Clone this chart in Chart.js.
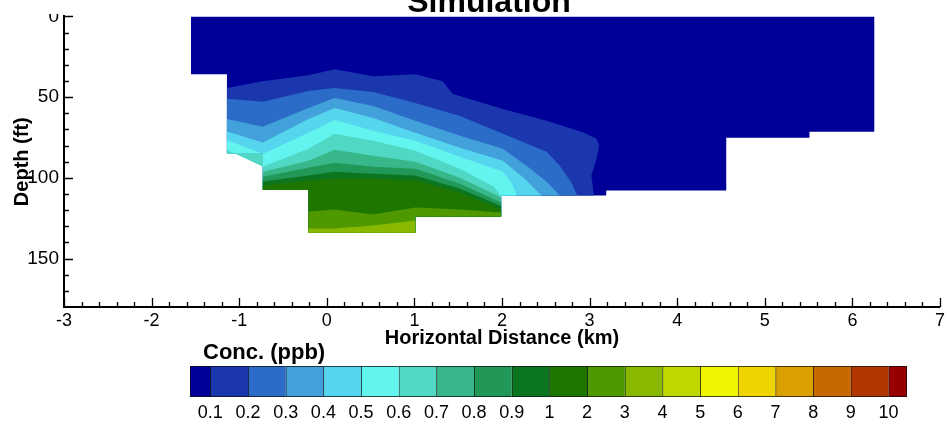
<!DOCTYPE html>
<html><head><meta charset="utf-8">
<script src="https://cdn.jsdelivr.net/npm/chart.js@4.4.1/dist/chart.umd.min.js"></script>
<style>
html,body{margin:0;padding:0;background:#fff;width:948px;height:426px;overflow:hidden;}
#main{position:absolute;left:0;top:0;}
#bar{position:absolute;left:0;top:340px;}
</style></head><body>
<canvas id="main" width="948" height="350"></canvas>
<canvas id="bar" width="948" height="86"></canvas>
<script>
// ---------- data ----------
const levelLabels = ['0.1','0.2','0.3','0.4','0.5','0.6','0.7','0.8','0.9','1','2','3','4','5','6','7','8','9','10'];
const levelColors = ['#000099','#1a37ae','#2a6cc8','#42a0da','#56d5ee','#62f5f0','#50d8c4','#38b88a','#219858','#0c7520',
                     '#1e7500','#4e9800','#88b800','#c0d800','#f0f500','#eed400','#d9a000','#c86800','#b03800','#960000'];
const xTickValues = [-3,-2,-1,0,1,2,3,4,5,6,7];
const depthTickValues = [0,50,100,150];

// model domain: top edge and stepped bottom edge (x km, depth ft)
const domainTopEdge = [[-1.55,35.8],[-1.55,0],[6.25,0]];
const domainBottom = [[6.25,71.5],[5.51,71.5],[5.51,75.2],[4.56,75.2],[4.56,107.9],[3.19,107.9],[3.19,111.0],
  [1.99,111.0],[1.99,123.9],[1.01,123.9],[1.01,134.0],[-0.21,134.0],[-0.21,107.5],[-0.73,107.5],[-0.73,84.9],
  [-1.14,84.9],[-1.14,35.8]];

// contour lines (x km, depth ft), one per level
const contour0p1 = [[-1.14,44.4],[-0.73,40.1],[-0.21,36.4],[0.09,32.7],[0.53,37.0],[1.01,35.8],[1.32,40.1],[1.44,48.1],
  [2.01,57.3],[2.51,64.7],[2.94,72.1],[3.08,75.8],[3.11,80.1],[3.08,88.2],[3.02,98.6],[3.05,111.0]];
const contour0p2 = [[-1.14,51.0],[-0.73,52.8],[-0.21,46.2],[0.09,44.4],[0.53,46.9],[1.01,53.6],[1.52,61.7],[2.01,72.7],
  [2.51,83.8],[2.66,92.5],[2.79,102.8],[2.86,111.0]];
const contour0p3 = [[-1.14,63.5],[-0.73,68.4],[-0.21,56.7],[0.09,50.6],[0.53,55.5],[1.01,64.7],[1.52,74.0],[2.01,82.0],
  [2.31,93.7],[2.52,103.0],[2.66,111.0]];
const contour0p4 = [[-1.14,71.3],[-0.73,78.1],[-0.21,63.5],[0.09,56.7],[0.53,62.9],[1.01,72.1],[1.52,81.4],[2.01,89.4],
  [2.26,100.5],[2.45,111.0]];
const contour0p5 = [[-1.14,76.6],[-0.73,85.3],[-0.21,72.1],[0.09,64.1],[0.53,70.9],[1.01,77.1],[1.52,86.9],[2.01,96.2],
  [2.11,103.0],[2.17,111.0]];
const contour0p6 = [[-1.14,82.6],[-0.73,93.1],[-0.21,82.0],[0.09,72.7],[0.53,77.1],[1.01,83.2],[1.52,94.3],[1.91,105.5],[1.99,111.5]];
const contour0p7 = [[-0.73,96.2],[-0.21,89.4],[0.09,82.6],[0.53,86.3],[1.01,90.0],[1.52,99.9],[1.99,112.2]];
const contour0p8 = [[-0.73,99.3],[-0.21,93.7],[0.09,90.6],[0.53,93.1],[1.01,94.3],[1.52,103.6],[1.99,115.3]];
const contour0p9 = [[-0.73,102.3],[-0.21,98.6],[0.09,96.2],[0.53,97.4],[1.01,98.6],[1.52,106.7],[1.99,117.4]];
const contour1 = [[-0.73,104.8],[-0.21,101.7],[0.09,100.5],[0.53,100.5],[1.01,101.7],[1.52,109.1],[1.99,119.6]];
const contour2 = [[-0.21,120.8],[0.09,119.6],[0.53,122.7],[1.01,118.4],[1.52,119.6],[1.99,121.5]];
const contour3 = [[-0.21,131.3],[0.09,131.3],[0.53,129.5],[1.01,126.4]];

const contours = [contour0p1,contour0p2,contour0p3,contour0p4,contour0p5,contour0p6,contour0p7,contour0p8,contour0p9,contour1,contour2,contour3];

// ---------- build filled regions (value >= level) ----------
function segIndex(p){
  const eps = 1e-6;
  for (let i = 0; i < domainBottom.length - 1; i++){
    const a = domainBottom[i], b = domainBottom[i+1];
    if (Math.abs(a[0]-b[0]) < eps && Math.abs(p[0]-a[0]) < eps &&
        p[1] >= Math.min(a[1],b[1]) - eps && p[1] <= Math.max(a[1],b[1]) + eps) return i;
    if (Math.abs(a[1]-b[1]) < eps && Math.abs(p[1]-a[1]) < eps &&
        p[0] >= Math.min(a[0],b[0]) - eps && p[0] <= Math.max(a[0],b[0]) + eps) return i;
  }
  return -1;
}
function regionPolygon(c){
  const s = c[0], e = c[c.length-1];
  const iE = segIndex(e), iS = segIndex(s);
  return [...c, ...domainBottom.slice(iE+1, iS+1), s];
}
const regions = [[...domainBottom, ...domainTopEdge], ...contours.map(regionPolygon)];

const FONT = "'Liberation Sans', Arial, Helvetica, sans-serif";
Chart.defaults.font.family = FONT;
Chart.defaults.color = '#000';

const innerTicks = {
  id: 'innerTicks',
  afterDraw(chart){
    const {ctx, chartArea: a, scales: {x, y}} = chart;
    ctx.save();
    ctx.strokeStyle = '#000';
    ctx.lineWidth = 1.3;
    ctx.beginPath();
    const xMin = xTickValues[0], xMax = xTickValues[xTickValues.length-1];
    const nx = Math.round((xMax - xMin) / 0.2);
    for (let i = 0; i <= nx; i++){
      const px = Math.round(x.getPixelForValue(xMin + i*0.2)) + 0.5;
      const len = (i % 5 === 0) ? 9 : 5;
      ctx.moveTo(px, a.bottom); ctx.lineTo(px, a.bottom - len);
    }
    for (let d = 0; d < 180; d += 10){
      const py = Math.round(y.getPixelForValue(d)) + 0.5;
      const len = (d % 50 === 0) ? 9 : 5;
      ctx.moveTo(a.left, py); ctx.lineTo(a.left + len, py);
    }
    ctx.stroke();
    ctx.clearRect(0, 0, 60, 14);
    ctx.fillStyle = '#000';
    ctx.font = 'bold 32px ' + FONT;
    ctx.textAlign = 'center';
    ctx.textBaseline = 'alphabetic';
    ctx.fillText('Simulation', 489, 12);
    ctx.restore();
  }
};

new Chart(document.getElementById('main'), {
  type: 'scatter',
  data: {
    datasets: regions.map((pts, k) => ({
      data: pts.map(p => ({x: p[0], y: p[1]})),
      backgroundColor: levelColors[k],
      borderColor: levelColors[k],
      borderWidth: 0,
      showLine: true,
      fill: 'shape',
      pointRadius: 0,
      tension: 0,
      order: 100 - k
    }))
  },
  options: {
    responsive: false, animation: false, events: [],
    layout: {padding: {top: 15, right: 7, bottom: 0, left: 0}},
    plugins: {legend: {display: false}, tooltip: {enabled: false}},
    scales: {
      x: {
        type: 'linear', min: -3, max: 7,
        afterBuildTicks: s => { s.ticks = xTickValues.map(v => ({value: v})); },
        afterFit: s => { s.height = 43; },
        grid: {display: false, drawTicks: false},
        border: {display: true, color: '#000', width: 2},
        ticks: {color: '#000', font: {size: 18}, padding: 3, maxRotation: 0, autoSkip: false},
        title: {display: true, text: 'Horizontal Distance (km)', color: '#000', font: {size: 20, weight: 'bold'}, padding: 0}
      },
      y: {
        type: 'linear', reverse: true, min: 0, max: 180,
        afterBuildTicks: s => { s.ticks = depthTickValues.map(v => ({value: v})); },
        afterFit: s => { s.width = 64; },
        grid: {display: false, drawTicks: false},
        border: {display: true, color: '#000', width: 2},
        ticks: {color: '#000', font: {size: 19}, padding: 5, autoSkip: false},
        title: {display: true, text: 'Depth (ft)', color: '#000', font: {size: 20, weight: 'bold'}, padding: {top: 10, bottom: 0}}
      }
    }
  },
  plugins: [innerTicks]
});

// ---------- colour bar ----------
const barMin = -0.54, barMax = levelLabels.length - 1 + 0.49;
const last = levelColors.length - 1;
new Chart(document.getElementById('bar'), {
  type: 'bar',
  data: {
    labels: [''],
    datasets: levelColors.map((c, k) => ({
      data: [[k === 0 ? barMin : k - 1, k === last ? barMax : k]],
      backgroundColor: c,
      borderColor: '#111',
      borderWidth: {top: 1, bottom: 1, left: 1, right: k === last ? 1 : 0},
      borderSkipped: false,
      grouped: false,
      barPercentage: 1,
      categoryPercentage: 1
    }))
  },
  options: {
    indexAxis: 'y', responsive: false, animation: false, events: [],
    layout: {padding: {left: 190, right: 41, top: 26, bottom: 0}},
    plugins: {legend: {display: false}, tooltip: {enabled: false}},
    scales: {
      x: {
        type: 'linear', min: barMin, max: barMax,
        afterBuildTicks: s => { s.ticks = levelLabels.map((_, i) => ({value: i})); },
        afterFit: s => { s.height = 29; },
        grid: {display: false, drawTicks: false},
        border: {display: false},
        ticks: {callback: v => levelLabels[v], color: '#000', font: {size: 18}, padding: 5, maxRotation: 0, autoSkip: false}
      },
      y: {display: false}
    }
  },
  plugins: [{
    id: 'cbTitle',
    afterDraw(chart){
      const ctx = chart.ctx;
      ctx.save();
      ctx.fillStyle = '#000';
      ctx.font = 'bold 22px ' + FONT;
      ctx.textAlign = 'left';
      ctx.textBaseline = 'middle';
      ctx.fillText('Conc. (ppb)', 203, 13);
      ctx.restore();
    }
  }]
});
</script>
</body></html>
